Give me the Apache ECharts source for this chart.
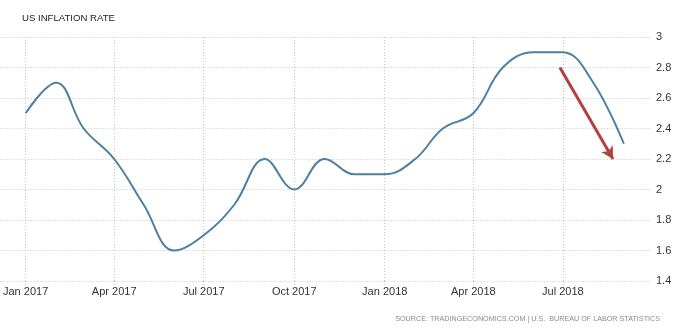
<!DOCTYPE html>
<html><head><meta charset="utf-8">
<script src="https://cdn.jsdelivr.net/npm/echarts@6/dist/echarts.min.js"></script>
<style>html,body{margin:0;padding:0;background:#fff}#c{width:682px;height:330px}</style>
</head><body><div id="c"></div>
<script>
var months = ['2017-01-01','2017-02-01','2017-03-01','2017-04-01','2017-05-01','2017-06-01','2017-07-01','2017-08-01','2017-09-01','2017-10-01','2017-11-01','2017-12-01','2018-01-01','2018-02-01','2018-03-01','2018-04-01','2018-05-01','2018-06-01','2018-07-01','2018-08-01','2018-09-01'];
var inflation = [2.5,2.7,2.4,2.2,1.9,1.6,1.7,1.9,2.2,2.0,2.2,2.1,2.1,2.2,2.4,2.5,2.8,2.9,2.9,2.7,2.3];
var tickDates = ['2017-01-01','2017-04-01','2017-07-01','2017-10-01','2018-01-01','2018-04-01','2018-07-01'];
var monthNames = ['Jan','Feb','Mar','Apr','May','Jun','Jul','Aug','Sep','Oct','Nov','Dec'];
var arrowFrom = ['2018-06-28', 2.8];
var arrowTo = ['2018-08-21', 2.2];

function ts(s){ var p=s.split('-'); return Date.UTC(+p[0], +p[1]-1, +p[2]); }
var tickTs = tickDates.map(ts);
var DAY = 86400000;
var xMin = ts('2017-01-01') - 25.4*DAY;
var xMax = xMin + 660*DAY;
var dotted = {color:'#c4c4c4', type:[1,2], width:1};

var chart = echarts.init(document.getElementById('c'));
chart.setOption({
  animation:false,
  title:{text:'US INFLATION RATE', left:17, top:8, textStyle:{fontFamily:'Liberation Sans', fontSize:9.6, fontWeight:'normal', color:'#222'}},
  graphic:[{type:'text', right:22, top:316, style:{text:'SOURCE: TRADINGECONOMICS.COM | U.S.  BUREAU OF LABOR STATISTICS', font:'7.2px "Liberation Sans"', fill:'#8a8a8a'}}],
  grid:{left:0, right:32, top:37, bottom:49},
  xAxis:{type:'value', min:xMin, max:xMax,
    axisLine:{show:false},
    axisTick:{show:true, customValues:tickTs, length:4, lineStyle:dotted},
    splitLine:{show:true, lineStyle:dotted},
    axisLabel:{customValues:tickTs, margin:5, fontFamily:'Liberation Sans', fontSize:11, color:'#333',
      formatter:function(v){ var d=new Date(v); return monthNames[d.getUTCMonth()]+' '+d.getUTCFullYear(); }}
  },
  yAxis:{type:'value', position:'right', min:1.4, max:3, interval:0.2,
    axisLine:{show:false}, axisTick:{show:false},
    splitLine:{lineStyle:dotted},
    axisLabel:{margin:6, fontFamily:'Liberation Sans', fontSize:11, color:'#333',
      formatter:function(v){ return String(Math.round(v*10)/10); }}
  },
  series:[{type:'line', data:months.map(function(m,i){return [ts(m), inflation[i]];}),
    smooth:0.4, showSymbol:false, lineStyle:{color:'#4e7fa3', width:2},
    markLine:{silent:true, symbol:['none','arrow'], symbolSize:[10,12], label:{show:false},
      lineStyle:{color:'#b0413e', width:3, type:'solid'},
      data:[[{coord:[ts(arrowFrom[0]), arrowFrom[1]]},{coord:[ts(arrowTo[0]), arrowTo[1]]}]]}
  }]
});
</script></body></html>
